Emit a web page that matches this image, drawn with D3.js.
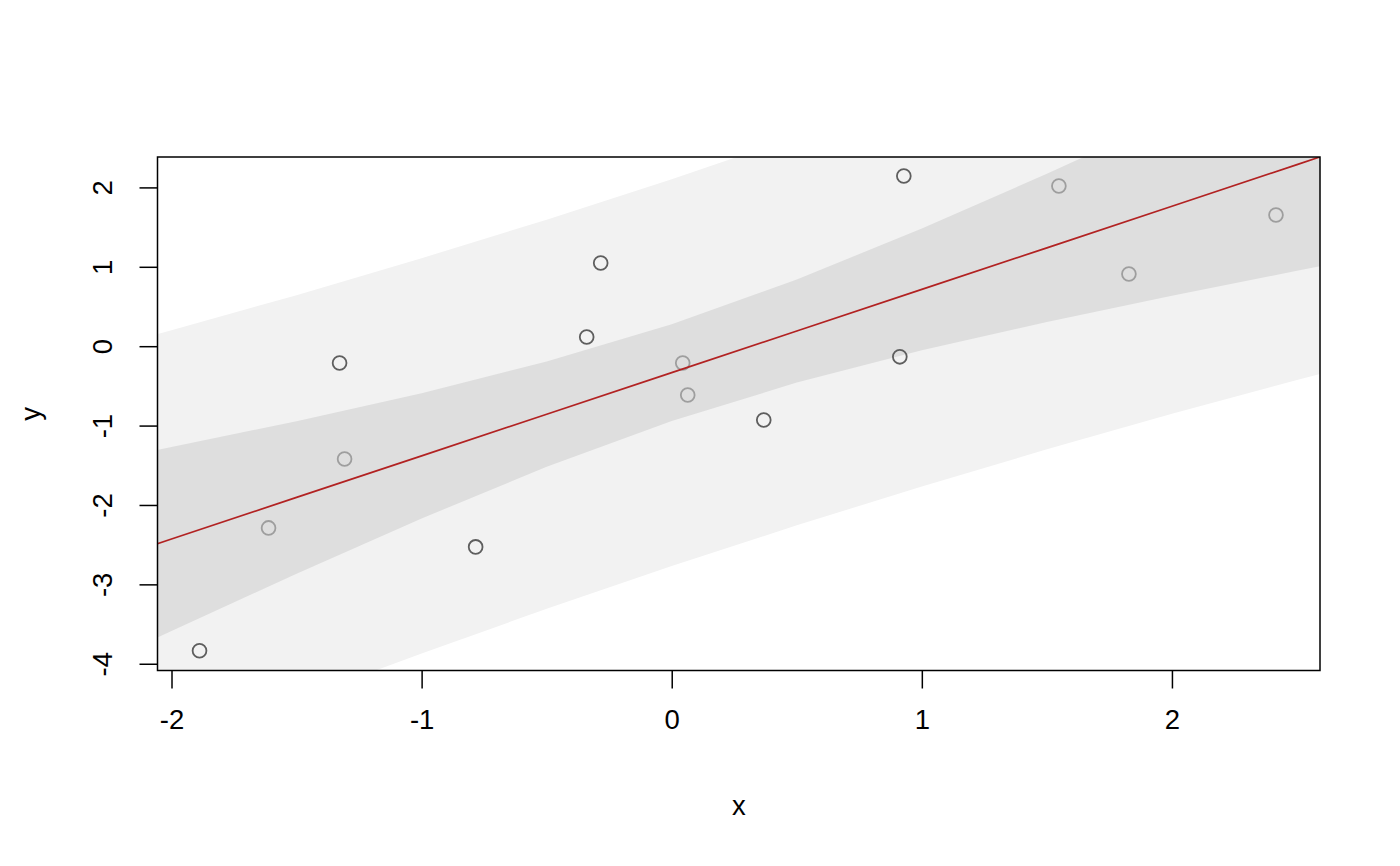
<!DOCTYPE html>
<html><head><meta charset="utf-8">
<script src="https://cdn.jsdelivr.net/npm/d3@7"></script>
<style>body{margin:0;background:#fff}svg{display:block}text{font-family:"Liberation Sans",Arial,sans-serif;fill:#000}</style>
</head><body>
<svg id="c" width="1400" height="866"></svg>
<script>
// Observed points (dark = group A, light = group B)
const xA = [-1.888, -1.328, -0.784, -0.340, -0.284, 0.368, 0.912, 0.928];
const yA = [-3.837, -0.212, -2.528, 0.116, 1.048, -0.929, -0.134, 2.144];
const xB = [-1.612, -1.308, 0.044, 0.064, 1.548, 1.828, 2.416];
const yB = [-2.289, -1.421, -0.212, -0.615, 2.018, 0.910, 1.652];
// Fitted line and interval bands on a grid
const gridX   = [-2.5, -2, -1.5, -1, -0.5, 0, 0.5, 1, 1.5, 2, 2.5, 3];
const fitY    = [-2.953, -2.429, -1.905, -1.381, -0.857, -0.333, 0.191, 0.715, 1.239, 1.763, 2.287, 2.811];
const confLo  = [-4.323, -3.587, -2.866, -2.170, -1.520, -0.943, -0.458, -0.052, 0.306, 0.636, 0.950, 1.255];
const confHi  = [-1.583, -1.271, -0.944, -0.592, -0.194, 0.277, 0.840, 1.482, 2.172, 2.890, 3.624, 4.367];
const predLo  = [-5.682, -5.058, -4.453, -3.870, -3.308, -2.770, -2.257, -1.766, -1.299, -0.852, -0.425, -0.016];
const predHi  = [-0.224, 0.200, 0.643, 1.108, 1.594, 2.104, 2.639, 3.196, 3.777, 4.378, 4.999, 5.638];
const xTicks = [-2, -1, 0, 1, 2];
const yTicks = [-4, -3, -2, -1, 0, 1, 2];
const xDomain = [-2.056, 2.592];
const yDomain = [-4.085, 2.383];

const L = 157.5, R = 1320, T = 157, B = 670.5;
const FS = 27.5;
const svg = d3.select("#c");
const x = d3.scaleLinear().domain(xDomain).range([L, R]);
const y = d3.scaleLinear().domain(yDomain).range([B, T]);
const fmt = d => String(d);

svg.append("defs").append("clipPath").attr("id", "clip")
  .append("rect").attr("x", L).attr("y", T).attr("width", R - L).attr("height", B - T);
const g = svg.append("g").attr("clip-path", "url(#clip)");

const idx = d3.range(gridX.length);
const area = (lo, hi) => d3.area().x(i => x(gridX[i])).y0(i => y(lo[i])).y1(i => y(hi[i]));
g.append("path").attr("d", area(predLo, predHi)(idx)).attr("fill", "#F2F2F2");
g.append("path").attr("d", area(confLo, confHi)(idx)).attr("fill", "#DEDEDE");

const pts = xA.map((v, i) => ({x: v, y: yA[i], c: "#5e5e5e"}))
  .concat(xB.map((v, i) => ({x: v, y: yB[i], c: "#9e9e9e"})));
g.selectAll("circle").data(pts).join("circle")
  .attr("cx", d => x(d.x)).attr("cy", d => y(d.y)).attr("r", 6.9)
  .attr("fill", "none").attr("stroke", d => d.c).attr("stroke-width", 1.8);

g.append("path").attr("d", d3.line().x(i => x(gridX[i])).y(i => y(fitY[i]))(idx))
  .attr("fill", "none").attr("stroke", "#B22222").attr("stroke-width", 1.7);

// frame
svg.append("rect").attr("x", L).attr("y", T).attr("width", R - L).attr("height", B - T)
  .attr("fill", "none").attr("stroke", "#000").attr("stroke-width", 1.5);

// x axis
const xa = svg.append("g").attr("transform", `translate(0,${B})`)
  .call(d3.axisBottom(x).tickValues(xTicks).tickSize(18).tickPadding(21).tickFormat(fmt));
xa.select(".domain").remove();
xa.selectAll("line").attr("stroke-width", 1.5);
xa.selectAll("text").attr("font-size", FS).attr("dy", "0.71em")
  .style("font-family", '"Liberation Sans", Arial, sans-serif');

// y axis
const ya = svg.append("g").attr("transform", `translate(${L},0)`)
  .call(d3.axisLeft(y).tickValues(yTicks).tickSize(18).tickPadding(0).tickFormat(fmt));
ya.select(".domain").remove();
ya.selectAll("line").attr("stroke-width", 1.5);
ya.selectAll("text").attr("x", null).attr("dy", null)
  .attr("text-anchor", "middle").attr("dominant-baseline", "central")
  .attr("transform", "translate(-55,0) rotate(-90)")
  .attr("font-size", FS).style("font-family", '"Liberation Sans", Arial, sans-serif');

svg.append("text").attr("x", (L + R) / 2).attr("y", 805).attr("text-anchor", "middle")
  .attr("dominant-baseline", "central").attr("font-size", FS).text("x");
svg.append("text").attr("transform", `translate(30,${(T + B) / 2}) rotate(-90)`)
  .attr("text-anchor", "middle").attr("dominant-baseline", "central").attr("font-size", FS).text("y");
</script>
</body></html>
